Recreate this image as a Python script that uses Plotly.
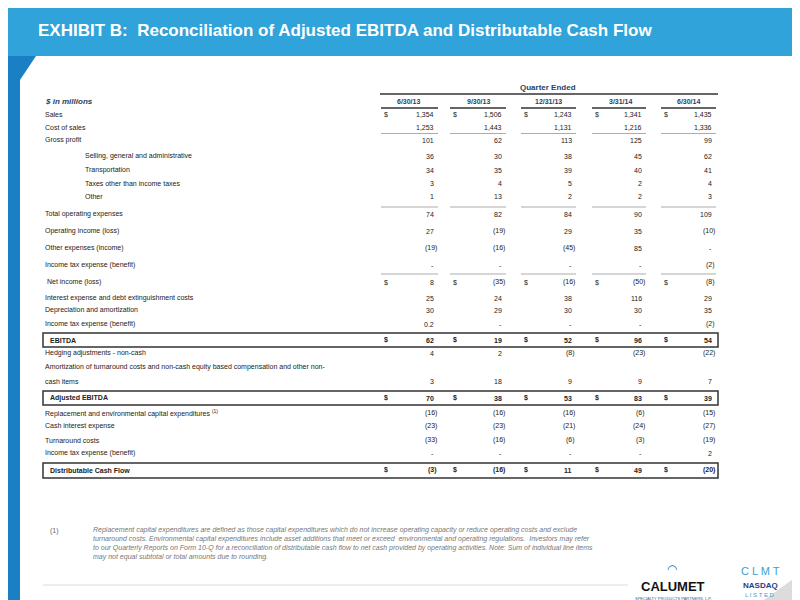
import plotly.graph_objects as go

quarters = ["6/30/13", "9/30/13", "12/31/13", "3/31/14", "6/30/14"]
row_labels = [
    "Sales", "Cost of sales", "Gross profit",
    "Selling, general and administrative", "Transportation", "Taxes other than income taxes", "Other",
    "Total operating expenses", "Operating income (loss)", "Other expenses (income)",
    "Income tax expense (benefit)", " Net income (loss)",
    "Interest expense and debt extinguishment costs", "Depreciation and amortization",
    "Income tax expense (benefit)", "EBITDA", "Hedging adjustments - non-cash",
    "Amortization of turnaround costs and non-cash equity based compensation and other non-|cash items",
    "Adjusted EBITDA", "Replacement and environmental capital expenditures <sup>(1)</sup>",
    "Cash interest expense", "Turnaround costs", "Income tax expense (benefit)",
    "Distributable Cash Flow",
]
values = [
    ["1,354", "1,506", "1,243", "1,341", "1,435"],
    ["1,253", "1,443", "1,131", "1,216", "1,336"],
    ["101", "62", "113", "125", "99"],
    ["36", "30", "38", "45", "62"],
    ["34", "35", "39", "40", "41"],
    ["3", "4", "5", "2", "4"],
    ["1", "13", "2", "2", "3"],
    ["74", "82", "84", "90", "109"],
    ["27", "(19)", "29", "35", "(10)"],
    ["(19)", "(16)", "(45)", "85", "-"],
    ["-", "-", "-", "-", "(2)"],
    ["8", "(35)", "(16)", "(50)", "(8)"],
    ["25", "24", "38", "116", "29"],
    ["30", "29", "30", "30", "35"],
    ["0.2", "-", "-", "-", "(2)"],
    ["62", "19", "52", "96", "54"],
    ["4", "2", "(8)", "(23)", "(22)"],
    ["3", "18", "9", "9", "7"],
    ["70", "38", "53", "83", "39"],
    ["(16)", "(16)", "(16)", "(6)", "(15)"],
    ["(23)", "(23)", "(21)", "(24)", "(27)"],
    ["(33)", "(16)", "(6)", "(3)", "(19)"],
    ["-", "-", "-", "-", "2"],
    ["(3)", "(16)", "11", "49", "(20)"],
]
row_y = [106, 119, 132, 148, 162, 175, 188, 206, 223, 240, 257, 274, 290, 302, 316,
         332, 345, 373, 390, 405, 418, 432, 445, 462]
dollar_rows = {0, 11, 15, 18, 23}
bold_rows = {15, 18, 23}
indent_rows = {3, 4, 5, 6}

FONT = "Liberation Sans, Arial"
val_x = [428, 496, 566, 636, 706]
dol_x = [378, 447, 518, 589, 658]
hdr_x = [400, 470, 540, 612, 680]

fig = go.Figure()
fig.add_trace(go.Scatter(x=[0, 800], y=[0, 600], mode="markers", marker=dict(opacity=0), hoverinfo="skip"))
shapes = []
ann = []
shapes.append(dict(type="rect", x0=0, x1=800, y0=0, y1=600, fillcolor="#1B7FC4", line_width=0, layer="below"))
shapes.append(dict(type="rect", x0=0, x1=800, y0=0, y1=48, fillcolor="#2FA3DA", line_width=0, layer="below"))
shapes.append(dict(type="path", path="M 12 600 L 12 72 L 28 48 L 800 48 L 800 600 Z",
                   fillcolor="white", line_width=0, layer="below"))
shapes.append(dict(type="path", path="M 745 600 L 800 560 L 800 600 Z", fillcolor="#DCDCDC", line_width=0, layer="below"))
ann.append(dict(x=28, y=22, text="<b>EXHIBIT B:  Reconciliation of Adjusted EBITDA and Distributable Cash Flow</b>",
                xanchor="left", font=dict(size=17, color="white", family=FONT)))
ann.append(dict(x=540, y=79, text="<b>Quarter Ended</b>", font=dict(size=8, family=FONT)))
shapes.append(dict(type="line", x0=372, x1=710, y0=86, y1=86, line=dict(color="#333", width=1.5)))
ann.append(dict(x=35, y=93, text="<b><i>$ in millions</i></b>", xanchor="left", font=dict(size=8, family=FONT)))
for i, q in enumerate(quarters):
    ann.append(dict(x=hdr_x[i], y=93, text=f"<b>{q}</b>", font=dict(size=7, family=FONT)))
    shapes.append(dict(type="line", x0=dol_x[i] - 5, x1=val_x[i] + 2, y0=100, y1=100, line=dict(color="#333", width=1.5)))
for y in (125.5, 199, 266):
    for i in range(5):
        shapes.append(dict(type="line", x0=dol_x[i] - 5, x1=val_x[i] + 2, y0=y, y1=y, line=dict(color="#888", width=0.7)))
for y0, y1 in ((325, 339), (383, 397), (455, 470)):
    shapes.append(dict(type="rect", x0=35, x1=710, y0=y0, y1=y1, line=dict(color="#333", width=1.5)))

for r, lab in enumerate(row_labels):
    y = row_y[r]
    x = 75 if r in indent_rows else (40 if r in bold_rows else 35)
    parts = lab.split("|")
    for k, p in enumerate(parts):
        t = f"<b>{p}</b>" if r in bold_rows else p
        ly = y - 14 * (len(parts) - 1 - k)
        ann.append(dict(x=x, y=ly, text=t, xanchor="left", align="left",
                        font=dict(size=7, family=FONT, color="#222")))
    for i, v in enumerate(values[r]):
        tv = f"<b>{v}</b>" if r in bold_rows else v
        xv = val_x[i] + (3 if v.endswith(")") else 0)
        ann.append(dict(x=xv, y=y, text=tv, xanchor="right", font=dict(size=7, family=FONT, color="#222")))
        if r in dollar_rows:
            ann.append(dict(x=dol_x[i], y=y, text="<b>$</b>" if r in bold_rows else "$",
                            font=dict(size=7, family=FONT, color="#222")))

shapes.append(dict(type="line", x0=35, x1=620, y0=577, y1=577, line=dict(color="#ccc", width=0.7)))
ann.append(dict(x=40, y=517, text="(1)", xanchor="left", yanchor="top", font=dict(size=7, family=FONT, color="#666")))
foot = ("Replacement capital expenditures are defined as those capital expenditures which do not increase operating capacity or reduce operating costs and exclude<br>"
        "turnaround costs. Environmental capital expenditures include asset additions that meet or exceed  environmental and operating regulations.  Investors may refer<br>"
        "to our Quarterly Reports on Form 10-Q for a reconciliation of distributable cash flow to net cash provided by operating activities. Note: Sum of individual line items<br>"
        "may not equal subtotal or total amounts due to rounding.")
ann.append(dict(x=83, y=516, text=f"<i>{foot}</i>", xanchor="left", yanchor="top", align="left",
                font=dict(size=7, family=FONT, color="#777")))
ann.append(dict(x=665, y=578, text="<b>CALUMET</b>", font=dict(size=13, family=FONT, color="#111")))
ann.append(dict(x=665, y=590, text="SPECIALTY PRODUCTS PARTNERS, L.P.", font=dict(size=4, family=FONT, color="#1B5FA8")))
ann.append(dict(x=664, y=560, text="◠", font=dict(size=12, color="#1B5FA8")))
ann.append(dict(x=752, y=563, text="C L M T", font=dict(size=11, family=FONT, color="#3AA0D8")))
ann.append(dict(x=752, y=577, text="<b>NASDAQ</b>", font=dict(size=8, family=FONT, color="#1B3F8A")))
ann.append(dict(x=752, y=587, text="L I S T E D", font=dict(size=6, family=FONT, color="#3AA0D8")))
ann.append(dict(x=788, y=587, text="26", font=dict(size=7, family=FONT, color="#888")))
for a in ann:
    a.update(xref="x", yref="y", showarrow=False)
    a.setdefault("yanchor", "middle")

fig.update_layout(width=800, height=600, margin=dict(l=0, r=0, t=0, b=0), showlegend=False,
                  shapes=shapes, annotations=ann, plot_bgcolor="white", paper_bgcolor="white",
                  xaxis=dict(range=[0, 800], visible=False, fixedrange=True),
                  yaxis=dict(range=[600, 0], visible=False, fixedrange=True))
fig.write_html("out.html", config={"displayModeBar": False})
